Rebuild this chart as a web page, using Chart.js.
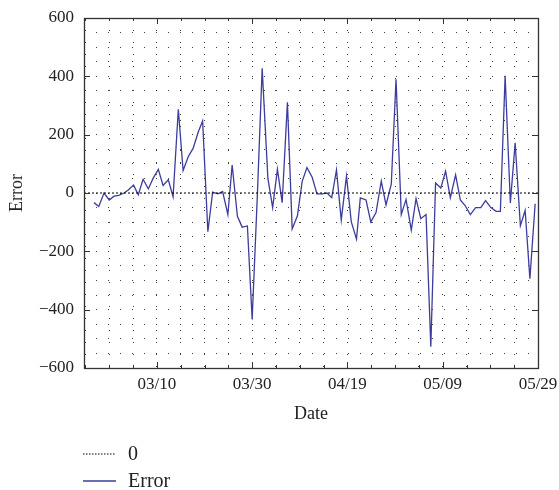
<!DOCTYPE html>
<html>
<head>
<meta charset="utf-8">
<script src="https://cdn.jsdelivr.net/npm/chart.js@4/dist/chart.umd.min.js"></script>
<style>
  html, body { margin: 0; padding: 0; background: #fff; }
  #wrap { position: relative; width: 559px; height: 490px; }
  #legend { position: absolute; left: 83px; top: 440px; font-family: "Liberation Serif", "DejaVu Serif", serif; font-size: 20px; color: #222; }
  .row { display: flex; align-items: center; height: 27px; }
  .row svg { margin-right: 12px; }
</style>
</head>
<body>
<div id="wrap">
  <canvas id="c" width="559" height="490"></canvas>
  <div id="legend"></div>
</div>
<script>
// ---- data ----
const xTickLabels = ['03/10', '03/30', '04/19', '05/09', '05/29'];
const xTickDays = [0, 20, 40, 60, 80];           // days after 03/10
const xRange = [-15.3, 80];                       // axis span in days after 03/10
const yRange = [-600, 600];
const yTickLabels = [600, 400, 200, 0, -200, -400, -600];
const days = [
  -13.2, -12.2, -11.1, -10.0, -9.0, -8.0, -6.9, -6.0, -4.9, -3.9, -2.9, -1.8, -0.8,
  0.3, 1.3, 2.4, 3.4, 4.5, 5.5, 6.6, 7.6, 8.7, 9.6, 10.7, 11.7, 12.8, 13.8, 14.9,
  15.8, 16.9, 17.9, 19.0, 20.0, 21.1, 22.1, 23.3, 24.3, 25.3, 26.3, 27.4, 28.4,
  29.5, 30.5, 31.5, 32.6, 33.6, 34.7, 35.7, 36.7, 37.7, 38.7, 39.8, 40.8, 41.9,
  42.7, 43.9, 44.9, 46.0, 47.1, 48.1, 49.2, 50.2, 51.3, 52.3, 53.4, 54.4, 55.4,
  56.5, 57.5, 58.5, 59.6, 60.6, 61.6, 62.7, 63.7, 64.7, 65.8, 66.9, 68.0, 69.0,
  70.1, 71.2, 72.1, 73.1, 74.2, 75.2, 76.3, 77.3, 78.3, 79.4
];
const errors = [
  -33, -46, 0, -24, -11, -8, 0, 10, 27, -6, 47, 14, 50,
  81, 26, 45, -13, 287, 77, 125, 153, 210, 247, -133, 3, -3, 5, -74,
  96, -80, -117, -113, -434, -3, 428, 50, -50, 82, -33, 311, -123,
  -78, 40, 87, 54, -3, -3, 0, -16, 79, -93, 58, -98, -158,
  -17, -24, -99, -67, 41, -41, 30, 390, -74, -22, -127, -19, -88,
  -74, -527, 34, 17, 75, -16, 62, -24, -43, -74, -50, -50, -26,
  -50, -63, -63, 402, -34, 172, -112, -60, -294, -37
];
const zeroLevel = [0, 0];
const seriesNames = ['0', 'Error'];

// ---- styles ----
const FONT = '"Liberation Serif", "DejaVu Serif", serif';
const LINE_COLOR = '#3c3c9e';
const TEXT = '#222';
const fmt = v => (v < 0 ? '\u2212' + Math.abs(v) : String(v));

const errorData = days.map((d, i) => ({ x: d, y: errors[i] }));
const zeroData = xRange.map((d, i) => ({ x: d, y: zeroLevel[i] }));

const frameAndTicks = {
  id: 'frameAndTicks',
  afterDatasetsDraw(chart) {
    const { ctx, chartArea: a, scales: { x, y } } = chart;
    ctx.save();
    ctx.strokeStyle = '#333';
    ctx.lineWidth = 1;
    ctx.beginPath();
    xTickDays.forEach(d => {
      const px = Math.round(x.getPixelForValue(d)) + 0.5;
      ctx.moveTo(px, a.bottom); ctx.lineTo(px, a.bottom - 6);
      ctx.moveTo(px, a.top); ctx.lineTo(px, a.top + 6);
    });
    for (let d = -15; d <= 80; d += 5) {
      if (d < xRange[0] || xTickDays.includes(d)) continue;
      const px = Math.round(x.getPixelForValue(d)) + 0.5;
      ctx.moveTo(px, a.bottom); ctx.lineTo(px, a.bottom - 3);
      ctx.moveTo(px, a.top); ctx.lineTo(px, a.top + 3);
    }
    yTickLabels.forEach(v => {
      const py = Math.round(y.getPixelForValue(v)) + 0.5;
      ctx.moveTo(a.left, py); ctx.lineTo(a.left + 6, py);
      ctx.moveTo(a.right, py); ctx.lineTo(a.right - 6, py);
    });
    ctx.stroke();
    ctx.lineWidth = 1.3;
    ctx.strokeRect(Math.round(a.left) + 0.5, Math.round(a.top) + 0.5,
                   Math.round(a.right - a.left), Math.round(a.bottom - a.top));
    ctx.restore();
  }
};

new Chart(document.getElementById('c'), {
  type: 'line',
  data: {
    datasets: [
      {
        label: seriesNames[0],
        data: zeroData,
        borderColor: '#000',
        borderWidth: 1,
        borderDash: [2, 2],
        pointRadius: 0,
        fill: false
      },
      {
        label: seriesNames[1],
        data: errorData,
        borderColor: LINE_COLOR,
        borderWidth: 1.3,
        pointRadius: 0,
        tension: 0,
        fill: false
      }
    ]
  },
  options: {
    responsive: false,
    animation: false,
    events: [],
    layout: { padding: { left: 0, right: 21, top: 18, bottom: 62 } },
    plugins: { legend: { display: false }, tooltip: { enabled: false } },
    scales: {
      x: {
        type: 'linear',
        min: xRange[0],
        max: xRange[1],
        afterFit: s => { s.height = 60; s.paddingLeft = 0; s.paddingRight = 0; },
        ticks: {
          stepSize: 5,
          includeBounds: false,
          autoSkip: false,
          maxRotation: 0,
          padding: 6,
          color: TEXT,
          font: { family: FONT, size: 17 },
          callback: v => {
            const k = xTickDays.indexOf(Math.round(v));
            return (k >= 0 && Math.abs(v - xTickDays[k]) < 1e-6) ? xTickLabels[k] : '';
          }
        },
        grid: { drawTicks: false, color: 'rgba(0,0,0,0.75)', lineWidth: 1 },
        border: { display: false, dash: [1, 11] },
        title: { display: true, text: 'Date', color: TEXT, font: { family: FONT, size: 18 }, padding: { top: 14, bottom: 3 } }
      },
      y: {
        type: 'linear',
        min: yRange[0],
        max: yRange[1],
        afterFit: s => { s.width = 84; s.paddingTop = 0; s.paddingBottom = 0; },
        ticks: {
          stepSize: 50,
          autoSkip: false,
          padding: 10,
          color: TEXT,
          font: { family: FONT, size: 17 },
          callback: v => (yTickLabels.includes(v) ? fmt(v) : '')
        },
        grid: { drawTicks: false, color: 'rgba(0,0,0,0.75)', lineWidth: 1 },
        border: { display: false, dash: [1, 11] },
        title: { display: true, text: 'Error', color: TEXT, font: { family: FONT, size: 18 }, padding: { top: 6, bottom: 6 } }
      }
    }
  },
  plugins: [frameAndTicks]
});

// ---- legend (stacked, below the plot) ----
const legend = document.getElementById('legend');
const legendStyles = [
  { color: '#000', dash: '1.5,1.5', w: 1 },
  { color: LINE_COLOR, dash: '', w: 1.3 }
];
seriesNames.forEach((name, i) => {
  const st = legendStyles[i];
  const row = document.createElement('div');
  row.className = 'row';
  row.innerHTML = '<svg width="33" height="6"><line x1="0" y1="3" x2="33" y2="3" stroke="' + st.color +
    '" stroke-width="' + st.w + '"' + (st.dash ? ' stroke-dasharray="' + st.dash + '"' : '') + '/></svg>' +
    '<span>' + name + '</span>';
  legend.appendChild(row);
});
</script>
</body>
</html>
